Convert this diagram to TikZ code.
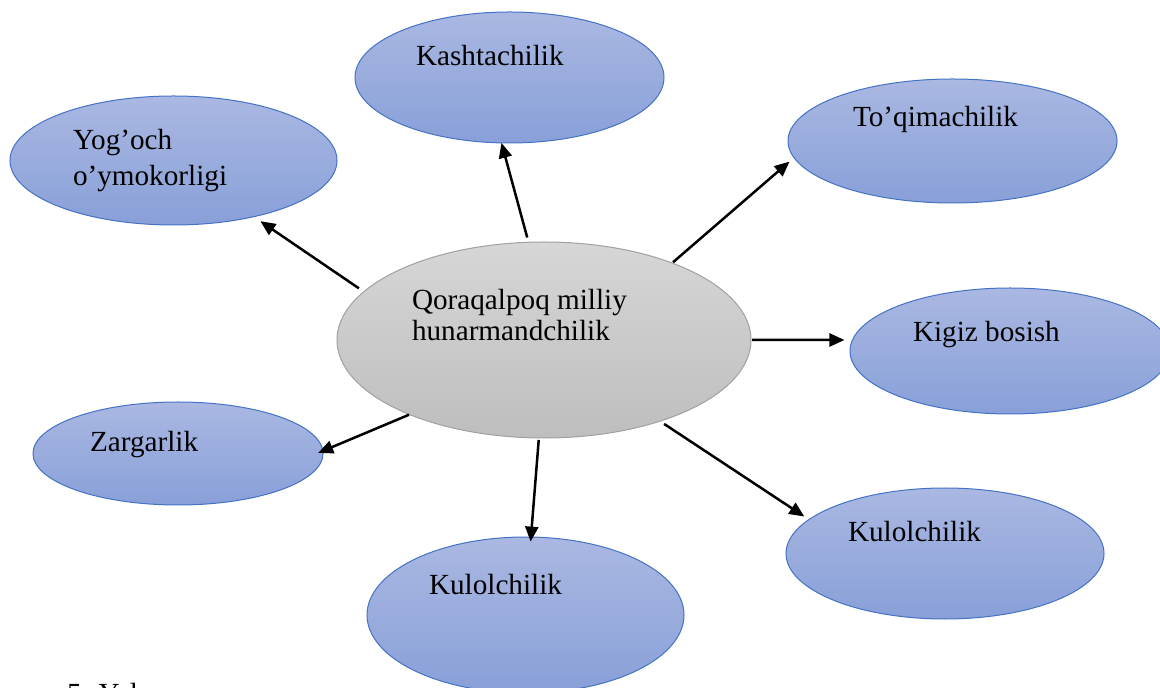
\documentclass[tikz,border=0pt]{standalone}
\usepackage{fontspec}
\setmainfont{Liberation Serif}
\usetikzlibrary{arrows.meta,shapes.geometric}
\definecolor{blueTop}{RGB}{170,184,226}
\definecolor{blueBot}{RGB}{136,160,216}
\definecolor{blueLine}{RGB}{68,114,196}
\definecolor{grayTop}{RGB}{214,214,214}
\definecolor{grayBot}{RGB}{190,190,190}
\definecolor{grayLine}{RGB}{160,160,160}
\tikzset{
  craft/.style={ellipse, draw=blueLine, line width=0.5pt, top color=blueTop, bottom color=blueBot, inner sep=0pt, outer sep=0pt},
  hub/.style={ellipse, draw=grayLine, line width=0.5pt, top color=grayTop, bottom color=grayBot, inner sep=0pt, outer sep=0pt},
  lbl/.style={anchor=base west, inner sep=0pt, outer sep=0pt, align=left, font=\fontsize{14.6pt}{17.85pt}\selectfont},
  arr/.style={line width=1.25pt, -{Triangle[length=7.5pt,width=6.5pt]}}
}
\begin{document}
\begin{tikzpicture}[x=0.5pt,y=-0.5pt]
\useasboundingbox (0,0) rectangle (1160,688);
\clip (0,0) rectangle (1160,688);
% ellipses
\node[hub, minimum width=207pt, minimum height=98pt] (c) at (544,340) {};
\node[craft, minimum width=154.5pt, minimum height=65.5pt] (k) at (509.5,77.5) {};
\node[craft, minimum width=163.5pt, minimum height=64.5pt] (y) at (173.5,160.5) {};
\node[craft, minimum width=164.5pt, minimum height=62pt] (t) at (952.5,141) {};
\node[craft, minimum width=160pt, minimum height=63pt] (g) at (1010,351) {};
\node[craft, minimum width=145pt, minimum height=51.5pt] (z) at (178,453.5) {};
\node[craft, minimum width=158.5pt, minimum height=78pt] (b) at (525.5,615) {};
\node[craft, minimum width=159pt, minimum height=65.5pt] (r) at (945,553.5) {};
% labels (base = baseline of the last line)
\node[lbl, font=\fontsize{14.6pt}{15.35pt}\selectfont] (ct) at (412,340.7) {Qoraqalpoq milliy\\hunarmandchilik};
\node[lbl] (kt) at (416,66) {Kashtachilik};
\node[lbl] (yt) at (73,185.7) {Yog’och\\o’ymokorligi};
\node[lbl] (tt) at (853,127) {To’qimachilik};
\node[lbl] (gt) at (913,342) {Kigiz bosish};
\node[lbl] (zt) at (90,452) {Zargarlik};
\node[lbl] (bt) at (429,594) {Kulolchilik};
\node[lbl] (rt) at (848,542) {Kulolchilik};
\node[lbl] (cap) at (67,703) {5. Yal};
% connectors
\draw[arr, shorten <=2.5pt] (c.99.4) -- (k.263.5);
\draw[arr, shorten <=3pt, shorten >=4pt] (c.165.7) -- (y.325.2);
\draw[arr, shorten <=0.6pt, shorten >=3pt] (c.31.4) -- (t.186.6);
\draw[arr, shorten <=0.6pt, shorten >=4pt] (c.-0.55) -- (g.176.9);
\draw[arr, shorten <=0.3pt, shorten >=-2.5pt] (c.209.9) -- (z.1.4);
\draw[arr, shorten <=1pt, shorten >=-2.3pt] (c.267.7) -- (b.86.5);
\draw[arr, shorten <=2.5pt, shorten >=2.8pt] (c.325.2) -- (r.166.9);
\end{tikzpicture}
\end{document}
